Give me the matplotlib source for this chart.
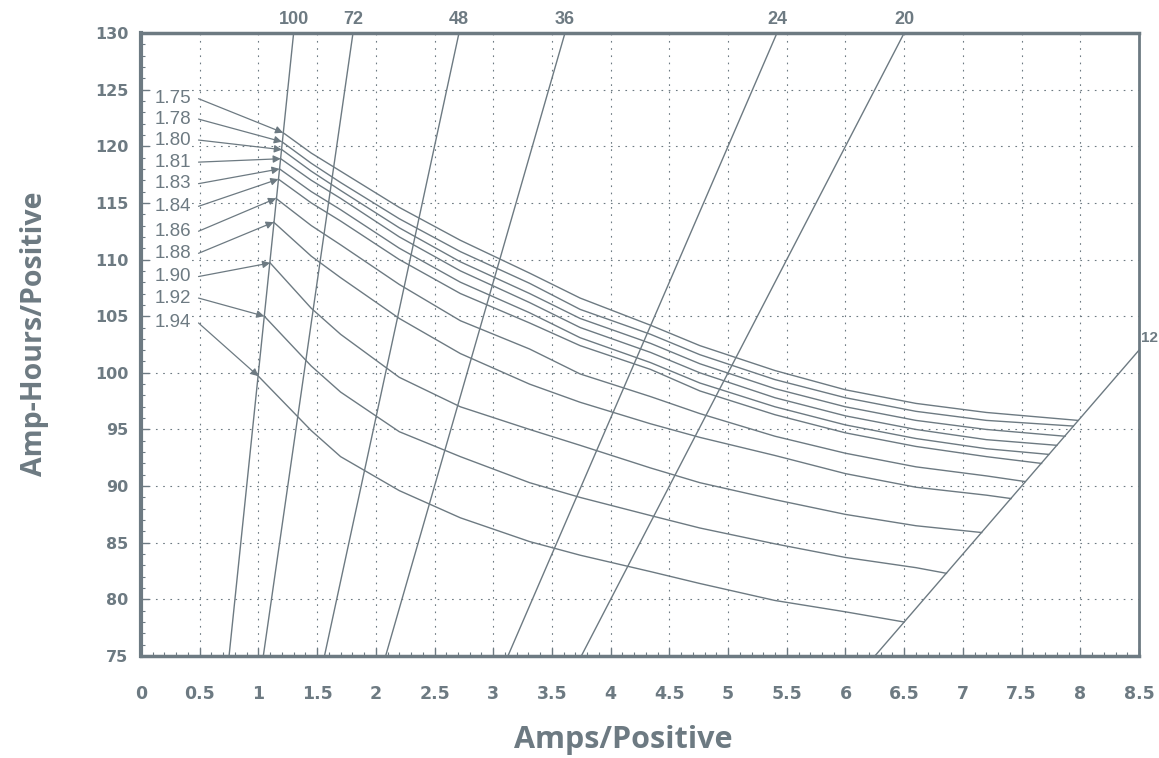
import matplotlib
matplotlib.use('Agg')
import matplotlib.pyplot as plt
import numpy as np

GRAY = '#6d7a82'

# constant-rate lines (hours of discharge)
hours = [100, 72, 48, 36, 24, 20, 12]
hour_labels = ['100', '72', '48', '36', '24', '20', '12']

# end-voltage curves
volts = ['1.75', '1.78', '1.80', '1.81', '1.83', '1.84', '1.86', '1.88', '1.90', '1.92', '1.94']
start_amps = [1.21, 1.20, 1.20, 1.19, 1.18, 1.17, 1.15, 1.13, 1.10, 1.05, 1.00]
start_ah = [121.2, 120.4, 119.7, 118.9, 118.0, 117.1, 115.4, 113.3, 109.7, 105.0, 99.7]
mid_amps = [1.45, 1.7, 2.2, 2.72, 3.31, 3.74, 4.34, 4.76, 5.4, 6.0, 6.6, 7.2]
mid_ah = [
    [119.4, 117.8, 114.6, 111.7, 108.8, 106.6, 104.2, 102.4, 100.2, 98.5, 97.3, 96.5],
    [118.5, 116.8, 113.6, 110.7, 107.9, 105.6, 103.4, 101.6, 99.4, 97.8, 96.6, 95.8],
    [117.8, 116.1, 112.8, 109.8, 107.0, 104.8, 102.6, 100.8, 98.6, 97.0, 95.8, 95.0],
    [117.0, 115.4, 112.0, 109.0, 106.2, 104.0, 101.8, 100.0, 97.8, 96.2, 95.0, 94.1],
    [116.0, 114.4, 111.0, 108.0, 105.3, 103.1, 100.9, 99.1, 97.0, 95.4, 94.2, 93.3],
    [115.0, 113.4, 110.0, 107.0, 104.4, 102.4, 100.3, 98.4, 96.3, 94.7, 93.5, 92.6],
    [113.0, 111.3, 107.8, 104.6, 102.1, 99.9, 97.9, 96.4, 94.4, 92.9, 91.7, 90.9],
    [110.3, 108.4, 104.8, 101.7, 99.0, 97.4, 95.5, 94.3, 92.7, 91.1, 89.9, 89.2],
    [105.7, 103.4, 99.6, 97.0, 95.0, 93.6, 91.6, 90.3, 88.8, 87.5, 86.5, None],
    [100.6, 98.3, 94.8, 92.6, 90.3, 89.0, 87.4, 86.3, 84.9, 83.7, 82.8, None],
    [94.9, 92.6, 89.6, 87.2, 85.1, 83.9, 82.45, 81.4, 79.9, 78.9, None, None],
]
end_amps = [7.98, 7.94, 7.87, 7.80, 7.73, 7.67, 7.53, 7.41, 7.16, 6.86, 6.50]
end_ah = [95.8, 95.3, 94.4, 93.6, 92.8, 92.0, 90.4, 88.9, 85.9, 82.3, 78.0]

# Ah level at which each voltage call-out text sits
label_ah = [124.2, 122.4, 120.55, 118.6, 116.7, 114.7, 112.5, 110.55, 108.5, 106.6, 104.4]

x_ticks = [0, 0.5, 1, 1.5, 2, 2.5, 3, 3.5, 4, 4.5, 5, 5.5, 6, 6.5, 7, 7.5, 8, 8.5]
y_ticks = [75, 80, 85, 90, 95, 100, 105, 110, 115, 120, 125, 130]

fig = plt.figure(figsize=(11.59, 7.58), dpi=100)
ax = fig.add_axes([141 / 1159, 1 - 656 / 758, 998 / 1159, 623 / 758])
ax.set_xlim(0, 8.5)
ax.set_ylim(75, 130)

# dotted grid
for gx in x_ticks[1:-1]:
    ax.axvline(gx, color=GRAY, lw=0.8, ls=(0, (1.5, 5)), zorder=1)
for gy in y_ticks[1:-1]:
    ax.axhline(gy, color=GRAY, lw=0.8, ls=(0, (1.5, 5)), zorder=1)

# hour lines: Ah = A * h
for h, lab in zip(hours, hour_labels):
    xs = np.array([0, 8.5])
    ax.plot(xs, xs * h, color=GRAY, lw=1.0, zorder=2)
    if h != 12:
        ax.text(130 / h, 130.4, lab, ha='center', va='bottom', color=GRAY,
                fontsize=13, fontweight='bold', family='Liberation Sans')
fig.text(1158 / 1159, 1 - 338 / 758, '12', ha='right', va='center', color=GRAY,
         fontsize=11, fontweight='bold', family='Liberation Sans')

# voltage curves
for i, v in enumerate(volts):
    xs = [start_amps[i]]
    ys = [start_ah[i]]
    for a, y in zip(mid_amps, mid_ah[i]):
        if y is not None:
            xs.append(a)
            ys.append(y)
    xs.append(end_amps[i])
    ys.append(end_ah[i])
    ax.plot(xs, ys, color=GRAY, lw=1.0, zorder=3)
    ax.annotate('', xy=(start_amps[i], start_ah[i]), xytext=(0.49, label_ah[i]),
                arrowprops=dict(arrowstyle='-|>', color=GRAY, lw=0.9,
                                mutation_scale=11, shrinkA=0, shrinkB=0))
    ax.text(0.12, label_ah[i], v, ha='left', va='center', color=GRAY,
            fontsize=13.5, family='Liberation Sans', zorder=4,
            bbox=dict(facecolor='white', edgecolor='none', pad=0.5))

# axes styling
for side, w in [('left', 3), ('bottom', 2.5), ('top', 2.5), ('right', 2)]:
    ax.spines[side].set_color(GRAY)
    ax.spines[side].set_linewidth(w)
ax.set_xticks(x_ticks)
ax.set_yticks(y_ticks)
ax.set_xticklabels([f'{t:g}' for t in x_ticks])
ax.set_xticks(np.arange(0, 8.51, 0.1), minor=True)
ax.set_yticks(np.arange(75, 130.1, 1), minor=True)
ax.tick_params(which='major', direction='in', length=6, width=1, color=GRAY,
               labelcolor=GRAY)
ax.tick_params(which='minor', direction='in', length=3, width=0.8, color=GRAY)
ax.tick_params(axis='x', pad=21, labelsize=12.5)
ax.tick_params(axis='y', pad=9, labelsize=11.5)
for lab in ax.get_xticklabels() + ax.get_yticklabels():
    lab.set_fontweight('bold')
    lab.set_family('DejaVu Sans')

fig.text(623 / 1159, 1 - 740 / 758, 'Amps/Positive', ha='center', va='center',
         fontsize=22, fontweight='bold', color=GRAY, family='Open Sans')
fig.text(35 / 1159, 1 - 334 / 758, 'Amp-Hours/Positive', ha='center', va='center',
         rotation=90, fontsize=20.5, fontweight='bold', color=GRAY, family='Open Sans')

fig.savefig('out.png', dpi=100)
